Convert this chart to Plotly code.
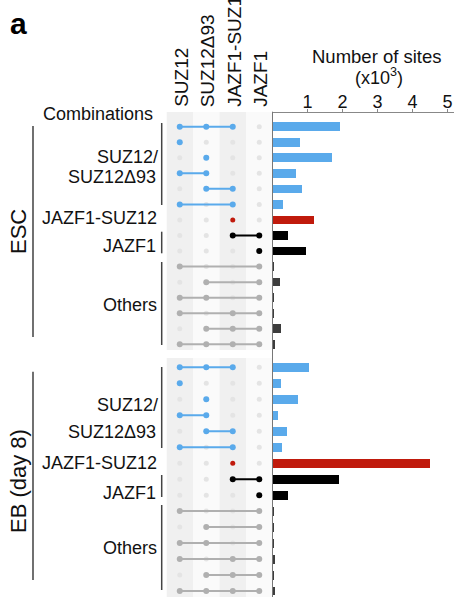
import plotly.graph_objects as go

# ---------------- data ----------------
set_names = ["SUZ12", "SUZ12Δ93", "JAZF1-SUZ12", "JAZF1"]
# membership of each combination (indices into set_names), top to bottom
combos = [[0, 1, 2], [0], [1], [0, 1], [1, 2], [0, 2],
          [2],
          [2, 3], [3],
          [0, 3], [1, 3], [0, 1, 3], [0, 2, 3], [1, 2, 3], [0, 1, 2, 3]]
combo_group = ["suz"] * 6 + ["js"] + ["jazf1"] * 2 + ["others"] * 6
esc_sites = [1.90, 0.77, 1.69, 0.65, 0.84, 0.28, 1.16, 0.43, 0.93,
             0.004, 0.19, 0.02, 0.004, 0.24, 0.05]   # x10^3
eb_sites = [1.02, 0.24, 0.71, 0.15, 0.39, 0.26, 4.48, 1.89, 0.43,
            0.003, 0.003, 0.006, 0.03, 0.02, 0.05]    # x10^3
tick_vals = [1, 2, 3, 4, 5]
group_labels = ["SUZ12/<br>SUZ12Δ93", "JAZF1-SUZ12", "JAZF1", "Others"]
panel_names = ["ESC", "EB (day 8)"]

# ---------------- styling ----------------
W, H = 454, 597
FONT = "Liberation Sans, Arial, Helvetica, sans-serif"
dot_color = {"suz": "#5aaaeb", "js": "#c01a0c", "jazf1": "#000000", "others": "#b0b0b0"}
bar_color = {"suz": "#5aaaeb", "js": "#c01a0c", "jazf1": "#000000", "others": "#3c3c3c"}
EMPTY = "#e4e4e4"


def pxx(p):
    """window pixel x -> paper fraction"""
    return p / W


def pyy(p):
    """window pixel y -> paper fraction"""
    return 1 - p / H


fig = go.Figure()

rows = list(range(len(combos)))
ncol = len(set_names)

for yref in ["y", "y2"]:
    # non-member dots
    ex, ey = [], []
    for r, c in zip(rows, combos):
        for j in range(ncol):
            if j not in c:
                ex.append(j)
                ey.append(r)
    fig.add_trace(go.Scatter(x=ex, y=ey, mode="markers", xaxis="x", yaxis=yref,
                             marker=dict(size=5, color=EMPTY), hoverinfo="skip",
                             showlegend=False))
    # connecting lines and member dots per group
    for g in ["suz", "js", "jazf1", "others"]:
        lx, ly, mx, my = [], [], [], []
        for r, c, gg in zip(rows, combos, combo_group):
            if gg != g:
                continue
            if len(c) > 1:
                lx += [min(c), max(c), None]
                ly += [r, r, None]
            for j in c:
                mx.append(j)
                my.append(r)
        if lx:
            fig.add_trace(go.Scatter(x=lx, y=ly, mode="lines", xaxis="x", yaxis=yref,
                                     line=dict(color=dot_color[g], width=2),
                                     hoverinfo="skip", showlegend=False))
        fig.add_trace(go.Scatter(x=mx, y=my, mode="markers", xaxis="x", yaxis=yref,
                                 marker=dict(size=5 if g == "js" else 6, color=dot_color[g]),
                                 hoverinfo="skip", showlegend=False))

# bars
for yref, vals in [("y", esc_sites), ("y2", eb_sites)]:
    fig.add_trace(go.Bar(x=vals, y=rows, orientation="h", xaxis="x2", yaxis=yref,
                         marker=dict(color=[bar_color[g] for g in combo_group], line=dict(width=0)),
                         width=0.56, showlegend=False))

shapes = []
# column bands
for top, bot in [(112, 350), (358, 597)]:
    for j in range(ncol):
        shapes.append(dict(type="rect", xref="x", yref="paper", x0=j - 0.5, x1=j + 0.5,
                           y0=pyy(bot), y1=pyy(top), line=dict(width=0),
                           fillcolor="#f0f0f0" if j % 2 == 0 else "#fafafa", layer="below"))
# bar baseline
shapes.append(dict(type="line", xref="paper", yref="paper", x0=pxx(272.5), x1=pxx(272.5),
                   y0=0, y1=pyy(111.7), line=dict(color="#777777", width=1)))

annotations = []
# group brackets and labels
brackets = {
    "y": [(123, 205, 157, 177), (231.7, 253.3, 246.5, None), (262, 345, 305, None)],
    "y2": [(367, 448, 405, 431.5), (475, 497, 493, None), (505, 590, 548, None)],
}
js_y = {"y": 218, "y2": 463}
LBL = dict(size=18, color="#111", family=FONT)
for yref in ["y", "y2"]:
    b = brackets[yref]
    for (y0, y1, _, _) in b:
        shapes.append(dict(type="line", xref="paper", yref="paper", x0=pxx(161.7), x1=pxx(161.7),
                           y0=pyy(y1), y1=pyy(y0), line=dict(color="#444444", width=1.5)))
    first, second = group_labels[0].split("<br>")
    annotations.append(dict(text=first, x=pxx(160), y=pyy(b[0][2]), xref="paper", yref="paper",
                            xanchor="right", yanchor="middle", showarrow=False, font=LBL))
    annotations.append(dict(text=second, x=pxx(157.5), y=pyy(b[0][3]), xref="paper", yref="paper",
                            xanchor="right", yanchor="middle", showarrow=False, font=LBL))
    annotations.append(dict(text=group_labels[1], x=pxx(159), y=pyy(js_y[yref]), xref="paper",
                            yref="paper", xanchor="right", yanchor="middle", showarrow=False,
                            font=LBL))
    annotations.append(dict(text=group_labels[2], x=pxx(158), y=pyy(b[1][2]), xref="paper",
                            yref="paper", xanchor="right", yanchor="middle", showarrow=False,
                            font=LBL))
    annotations.append(dict(text=group_labels[3], x=pxx(159), y=pyy(b[2][2]), xref="paper",
                            yref="paper", xanchor="right", yanchor="middle", showarrow=False,
                            font=LBL))

# panel brackets and names
for (y0, y1, yc), name in zip([(126, 337, 232), (371.7, 580, 481)], panel_names):
    shapes.append(dict(type="line", xref="paper", yref="paper", x0=pxx(33), x1=pxx(33),
                       y0=pyy(y1), y1=pyy(y0), line=dict(color="#111111", width=1.2)))
    annotations.append(dict(text=name, x=pxx(18), y=pyy(yc), xref="paper", yref="paper",
                            textangle=-90, xanchor="center", yanchor="middle", showarrow=False,
                            font=dict(size=22, color="#111", family=FONT)))

# column headers
for j, name in enumerate(set_names):
    annotations.append(dict(text=name, x=j + 0.06, y=pyy(109), xref="x", yref="paper",
                            textangle=-90, xanchor="center", yanchor="bottom", showarrow=False,
                            font=dict(size=19, color="#111", family=FONT)))

annotations += [
    dict(text="<b>a</b>", x=pxx(8), y=pyy(23), xref="paper", yref="paper", xanchor="left",
         yanchor="middle", showarrow=False, font=dict(size=30, color="#000", family=FONT)),
    dict(text="Combinations", x=pxx(155), y=pyy(114), xref="paper", yref="paper",
         xanchor="right", yanchor="middle", showarrow=False, font=LBL),
    dict(text="Number of sites", x=pxx(377), y=pyy(57), xref="paper", yref="paper",
         xanchor="center", yanchor="middle", showarrow=False,
         font=dict(size=18.5, color="#111", family=FONT)),
    dict(text="(x10<sup>3</sup>)", x=pxx(379), y=pyy(77), xref="paper", yref="paper",
         xanchor="center", yanchor="middle", showarrow=False,
         font=dict(size=18, color="#111", family=FONT)),
]

x0_px = 272.5
unit_px = 35.0
fig.update_layout(
    width=W, height=H,
    margin=dict(l=0, r=0, t=0, b=0),
    paper_bgcolor="white", plot_bgcolor="rgba(0,0,0,0)",
    bargap=0,
    xaxis=dict(domain=[pxx(x0_px - 4 * 26.5), pxx(x0_px)], range=[-0.5, 3.5], visible=False,
               anchor="y", fixedrange=True),
    xaxis2=dict(domain=[pxx(x0_px), 1], range=[0, (W - x0_px) / unit_px], side="top",
                anchor="free", position=pyy(111.7), showline=True, linecolor="#888888",
                linewidth=1, ticks="outside", ticklen=3, tickcolor="#888888",
                tickvals=tick_vals, ticktext=[str(t) for t in tick_vals],
                tickfont=dict(size=18, color="#111", family=FONT), ticklabelstandoff=-6,
                showgrid=False, zeroline=False, fixedrange=True),
    yaxis=dict(domain=[pyy(350), pyy(112)],
               range=[(350 - 126.7) / 15.543, (112 - 126.7) / 15.543],
               visible=False, anchor="x", fixedrange=True),
    yaxis2=dict(domain=[0, pyy(358)],
                range=[(597 - 367.3) / 15.979, (358 - 367.3) / 15.979],
                visible=False, anchor="x", fixedrange=True),
    shapes=shapes,
    annotations=annotations,
    font=dict(family=FONT),
)

fig.write_html("out.html", config={"displayModeBar": False},
               post_script="document.body.style.margin='0px';"
                           "document.body.style.overflow='hidden';")
